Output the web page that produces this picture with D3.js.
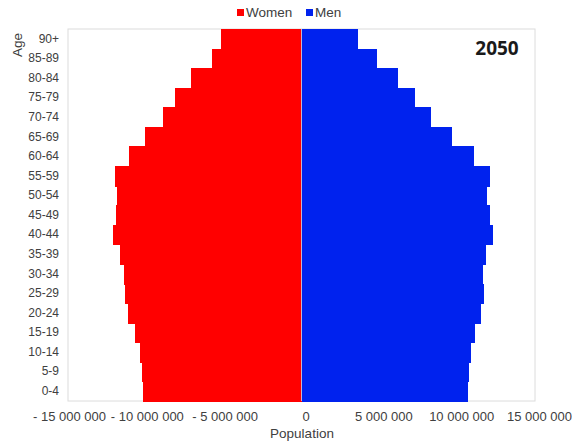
<!DOCTYPE html>
<html>
<head>
<meta charset="utf-8">
<script src="https://cdn.jsdelivr.net/npm/d3@7"></script>
<style>
  html, body { margin: 0; padding: 0; background: #fff; }
  svg { display: block; }
  text { font-family: "Liberation Sans", Arial, sans-serif; fill: #404040; }
</style>
</head>
<body>
<svg id="chart" width="572" height="441"></svg>
<script>
// Age groups, bottom to top
const ageGroups = ["0-4","5-9","10-14","15-19","20-24","25-29","30-34","35-39","40-44","45-49",
                   "50-54","55-59","60-64","65-69","70-74","75-79","80-84","85-89","90+"];
// Population in 2050 (persons)
const women = [10180000,10240000,10400000,10670000,11150000,11360000,11380000,11680000,12130000,11900000,
               11850000,11960000,11100000,10030000,8920000,8100000,7090000,5740000,5200000];
const men   = [10700000,10760000,10870000,11130000,11560000,11730000,11680000,11830000,12330000,12090000,
               11940000,12090000,11080000,9650000,8300000,7290000,6220000,4820000,3620000];
const xTicks = [-15000000,-10000000,-5000000,0,5000000,10000000,15000000];
const seriesNames = ["Women","Men"];
const seriesColors = ["#ff0000","#0022ee"];
const yearLabel = "2050";

const svg = d3.select("#chart");
const plot = {left: 68, right: 535, top: 29, bottom: 401};

const x = d3.scaleLinear().domain([-15000000, 15000000]).range([plot.left, plot.right]);
const y = d3.scaleBand().domain(ageGroups.slice().reverse()).range([plot.top, plot.bottom]).padding(0);

// plot frame
svg.append("rect")
  .attr("x", plot.left).attr("y", plot.top)
  .attr("width", plot.right - plot.left).attr("height", plot.bottom - plot.top)
  .attr("fill", "none").attr("stroke", "#dcdcdc").attr("stroke-width", 1);

const rows = ageGroups.map((a, i) => ({age: a, women: women[i], men: men[i]}));

// women bars (left)
svg.append("g").attr("shape-rendering", "crispEdges").selectAll("rect").data(rows).join("rect")
  .attr("x", d => x(-d.women))
  .attr("y", d => y(d.age))
  .attr("width", d => x(0) - x(-d.women))
  .attr("height", y.bandwidth() + 1)
  .attr("fill", seriesColors[0]);

// men bars (right)
svg.append("g").attr("shape-rendering", "crispEdges").selectAll("rect").data(rows).join("rect")
  .attr("x", x(0))
  .attr("y", d => y(d.age))
  .attr("width", d => x(d.men) - x(0))
  .attr("height", y.bandwidth() + 1)
  .attr("fill", seriesColors[1]);

// zero line
svg.append("line")
  .attr("x1", x(0)).attr("x2", x(0))
  .attr("y1", plot.top).attr("y2", plot.bottom)
  .attr("stroke", "#c9b2cf").attr("stroke-width", 1);

// y axis labels
const yAxis = d3.axisLeft(y).tickSize(0).tickPadding(9);
const gy = svg.append("g").attr("transform", `translate(${plot.left},0)`).call(yAxis);
gy.select(".domain").remove();
gy.selectAll("text").style("font-size", "12px").attr("fill", "#404040")
  .style("font-family", '"Liberation Sans", Arial, sans-serif');

// x axis labels
const fmt = v => {
  const s = d3.format(",")(Math.abs(v)).replace(/,/g, " ");
  return v < 0 ? "- " + s : s;
};
const xAxis = d3.axisBottom(x).tickValues(xTicks).tickSize(0).tickPadding(11).tickFormat(fmt);
const gx = svg.append("g").attr("transform", `translate(0,${plot.bottom})`).call(xAxis);
gx.select(".domain").remove();
gx.selectAll("text").style("font-size", "13px").attr("fill", "#404040")
  .style("font-family", '"Liberation Sans", Arial, sans-serif')
  .attr("dx", d => d >= 0 ? 4 : 1);

// axis titles
svg.append("text").attr("x", 302).attr("y", 438).attr("text-anchor", "middle")
  .style("font-size", "13.5px").text("Population");
svg.append("text").attr("transform", "translate(22,45) rotate(-90)").attr("text-anchor", "middle")
  .style("font-size", "13.5px").text("Age");

// legend
const legendItems = [{name: seriesNames[0], color: seriesColors[0], x: 237},
                     {name: seriesNames[1], color: seriesColors[1], x: 306}];
const lg = svg.append("g");
legendItems.forEach(it => {
  lg.append("rect").attr("x", it.x).attr("y", 9).attr("width", 7).attr("height", 7).attr("fill", it.color);
  lg.append("text").attr("x", it.x + 9).attr("y", 17).style("font-size", "13.5px").text(it.name);
});

// year label
svg.append("text").attr("x", 497).attr("y", 55).attr("text-anchor", "middle")
  .style("font-family", '"Open Sans", sans-serif').style("font-weight", "bold")
  .style("font-size", "19px").style("fill", "#1a1a1a").text(yearLabel);
</script>
</body>
</html>
